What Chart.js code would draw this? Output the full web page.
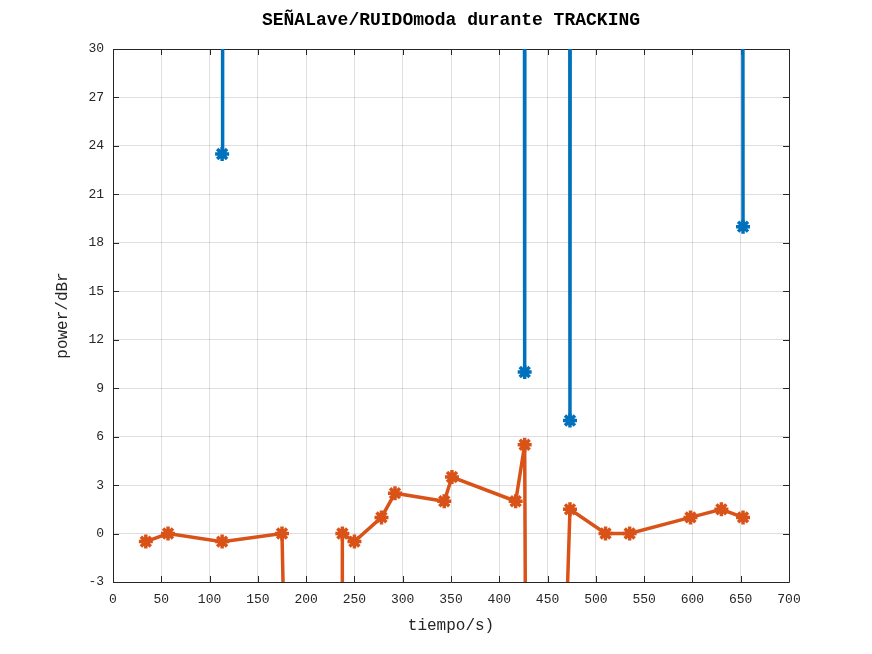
<!DOCTYPE html>
<html>
<head>
<meta charset="utf-8">
<script src="https://cdn.jsdelivr.net/npm/chart.js@4"></script>
<style>
  body { margin: 0; background: #ffffff; }
</style>
</head>
<body>
<canvas id="trackingChart" width="872" height="654"></canvas>
<script>
// SEÑAL (blue): values far above 30 are off the plot, they only give the vertical lines
const tSenal = [113, 113.5, 425.5, 426.3, 427, 472.5, 473.2, 474, 651.5, 652.4];
const senal  = [23.5, 100, 100, 10, 100, 100, 7, 100, 100, 19];

// RUIDO (orange): values far below -3 are off the plot
const tRuido = [34, 57, 113, 175, 196, 237, 237.5, 250, 278, 292, 343, 351, 417, 426.3, 431, 440, 473.2, 510, 535, 598, 630, 652.4];
const ruido  = [-0.5, 0, -0.5, 0, -60, -60, 0, -0.5, 1, 2.5, 2, 3.5, 2, 5.5, -60, -60, 1.5, 0, 0, 1, 1.5, 1];

const xTicks = [0, 50, 100, 150, 200, 250, 300, 350, 400, 450, 500, 550, 600, 650, 700];
const yTicks = [-3, 0, 3, 6, 9, 12, 15, 18, 21, 24, 27, 30];

const toPoints = (xs, ys) => xs.map((x, i) => ({x: x, y: ys[i]}));

const axisColor = "#262626";
const monoFont = "'Liberation Mono', 'Courier New', monospace";

// MATLAB-like box with inward ticks on all four sides
const boxPlugin = {
    id: "matlabBox",
    beforeDatasetsDraw(chart) {
        const {ctx, chartArea: a, scales: {x, y}} = chart;
        const len = 6;
        ctx.save();
        ctx.strokeStyle = axisColor;
        ctx.lineWidth = 1;
        ctx.beginPath();
        ctx.rect(Math.round(a.left) + 0.5, Math.round(a.top) + 0.5,
                 Math.round(a.width), Math.round(a.height));
        xTicks.forEach(v => {
            const px = Math.round(x.getPixelForValue(v)) + 0.5;
            ctx.moveTo(px, a.bottom); ctx.lineTo(px, a.bottom - len);
            ctx.moveTo(px, a.top); ctx.lineTo(px, a.top + len);
        });
        yTicks.forEach(v => {
            const py = Math.round(y.getPixelForValue(v)) + 0.5;
            ctx.moveTo(a.left, py); ctx.lineTo(a.left + len, py);
            ctx.moveTo(a.right, py); ctx.lineTo(a.right - len, py);
        });
        ctx.stroke();
        ctx.restore();
    }
};

const ctx = document.getElementById("trackingChart").getContext("2d");

const chart = new Chart(ctx, {
    type: "line",
    data: {
        datasets: [{
            label: "SEÑALave",
            data: toPoints(tSenal, senal),
            borderColor: "#0072BD",
            backgroundColor: "#0072BD",
            borderWidth: 3.5,
            pointStyle: "star",
            pointRadius: 7,
            pointBorderWidth: 3.5,
            pointBorderColor: "#0072BD",
            tension: 0
        }, {
            label: "RUIDOmoda",
            data: toPoints(tRuido, ruido),
            borderColor: "#D95319",
            backgroundColor: "#D95319",
            borderWidth: 3.5,
            pointStyle: "star",
            pointRadius: 7,
            pointBorderWidth: 3.5,
            pointBorderColor: "#D95319",
            tension: 0
        }]
    },
    options: {
        responsive: false,
        animation: false,
        layout: {
            padding: {left: 0, right: 83, top: 0, bottom: 0}
        },
        plugins: {
            legend: {display: false},
            tooltip: {enabled: false},
            title: {
                display: true,
                text: "SEÑALave/RUIDOmoda durante TRACKING",
                fullSize: false,
                color: "#000000",
                font: {family: monoFont, size: 18, weight: "bold", lineHeight: 1.2},
                padding: {top: 9.2, bottom: 18.2}
            }
        },
        scales: {
            x: {
                type: "linear",
                min: 0,
                max: 700,
                afterFit: s => { s.height = 72; },
                afterBuildTicks: s => { s.ticks = xTicks.map(v => ({value: v})); },
                border: {display: false},
                grid: {color: "rgba(38,38,38,0.15)", drawTicks: false},
                ticks: {
                    color: axisColor,
                    padding: 10,
                    maxRotation: 0,
                    font: {family: monoFont, size: 13}
                },
                title: {
                    display: true,
                    text: "tiempo/s)",
                    color: axisColor,
                    font: {family: monoFont, size: 16, lineHeight: 1.2},
                    padding: {top: 0, bottom: 18.4}
                }
            },
            y: {
                min: -3,
                max: 30,
                afterFit: s => { s.width = 113; },
                afterBuildTicks: s => { s.ticks = yTicks.map(v => ({value: v})); },
                border: {display: false},
                grid: {color: "rgba(38,38,38,0.15)", drawTicks: false},
                ticks: {
                    color: axisColor,
                    padding: 9,
                    font: {family: monoFont, size: 13}
                },
                title: {
                    display: true,
                    text: "power/dBr",
                    color: axisColor,
                    font: {family: monoFont, size: 16, lineHeight: 1.2},
                    padding: {top: 53.4, bottom: 0}
                }
            }
        }
    },
    plugins: [boxPlugin]
});
</script>
</body>
</html>
